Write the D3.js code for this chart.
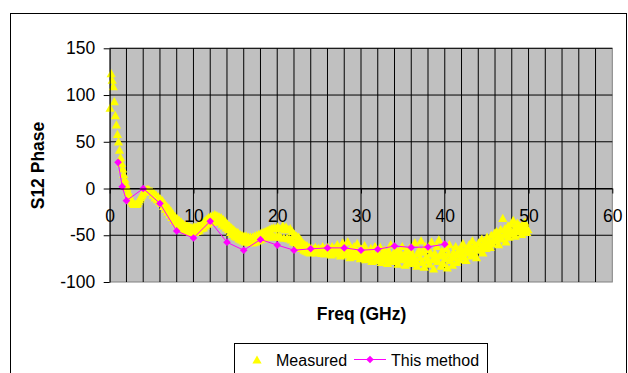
<!DOCTYPE html>
<html>
<head>
<meta charset="utf-8">
<script src="https://cdn.jsdelivr.net/npm/d3@7/dist/d3.min.js"></script>
<style>
  html, body { margin: 0; padding: 0; background: #fff; }
  svg { display: block; font-family: Arial, "Liberation Sans", sans-serif; }
</style>
</head>
<body>
<svg id="chart" width="628" height="373"></svg>
<script>
// Sweep of the measured S12 phase (GHz start / step, one value per point, degrees)
const measStartGHz = 0.05;
const measStepGHz = 0.125;
const measuredPhase = [
  86, 123, 116, 109, 93, 78, 68, 58,
  50, 41, 33, 27, 21, 15, 10, 5,
  1, -3, -6, -9, -12, -14, -16, -17,
  -17, -17, -16, -14, -12, -10, -8, -6,
  -4, -3, -2, -1.5, -1, -1.5, -2.5, -3.5,
  -3, -7, -5, -10, -7, -12, -9, -14,
  -11, -16, -13, -19, -16, -22, -19, -25,
  -21, -28, -24, -31, -27, -34, -30, -36,
  -32, -38, -34, -41, -36, -42, -38, -44,
  -39, -45, -40, -46, -41, -47, -42, -47,
  -41, -47, -41, -46, -40, -45, -38, -43,
  -37, -42, -35, -40, -33, -38, -31, -36,
  -30, -36, -29, -35, -28, -34, -29, -35,
  -30, -36, -31, -38, -33, -40, -35, -42,
  -38, -44, -40, -47, -42, -49, -44, -51,
  -46, -52, -47, -54, -49, -55, -50, -56,
  -51, -57, -51, -57, -52, -58, -52, -58,
  -52, -58, -51, -57, -50, -56, -49, -55,
  -48, -54, -47, -53, -46, -52, -45, -51,
  -44, -51, -43, -50, -42, -52, -43, -51,
  -41, -51, -43, -52, -42, -40, -53, -44,
  -41, -53, -44, -54, -43, -55, -46, -57,
  -49, -58, -51, -60, -52, -62, -55, -64,
  -58, -66, -60, -67, -61, -68, -63, -69,
  -64, -68, -65, -66.5, -63, -69, -66, -64,
  -67, -65, -69.5, -62, -66, -70, -64, -67,
  -63, -68, -65.5, -71, -62, -66, -69, -63.5,
  -67, -60, -70, -65, -72, -64, -58, -68,
  -63, -71, -66, -57, -69, -74, -64, -67,
  -70, -62, -73, -66, -59, -71, -68, -75,
  -65, -72, -69, -61, -76, -67, -73, -70,
  -74, -64, -78, -69, -72, -62, -77, -71,
  -68, -75, -63, -79, -70, -73, -66, -76,
  -71, -80, -67, -74, -60, -77, -72, -69,
  -78, -65, -73, -81, -68, -75, -70, -62,
  -76, -71, -82, -67, -74, -79, -64, -72,
  -69, -80, -75, -58, -77, -83, -70, -66,
  -74, -56, -79, -68, -84, -62, -73, -77,
  -65, -81, -70, -57, -76, -86, -69, -74,
  -62, -78, -55, -72, -83, -67, -80, -71,
  -75, -64, -85, -70, -60, -77, -73, -82,
  -68, -74, -62, -79, -71, -66, -76, -63,
  -70, -59, -73, -66, -77, -64, -69, -60,
  -67, -72, -56, -63, -70, -61, -74, -65,
  -58, -66, -62, -54, -69, -60, -56, -64,
  -52, -61, -57, -63, -50, -59, -55, -48,
  -56, -46, -53, -60, -49, -44, -54, -32,
  -50, -43, -57, -47, -40, -52, -45, -38,
  -48, -34, -44, -51, -42, -37, -46, -40,
  -43, -49, -38, -45, -36, -41, -47, -44
];

// Computed phase ("This method")
const methodFreq = [1, 1.5, 2, 4, 6, 8, 10, 12, 14, 16, 18, 20, 22, 24, 26, 28, 30, 32, 34, 36, 38, 40];
const methodPhase = [28, 2, -13, 0, -16, -45.5, -53, -35, -57.5, -66, -54.5, -60.5, -66, -64.5, -63.5, -63.5, -66, -65, -61.5, -63, -62.5, -59.5];

// Axis ticks and labels
const xTicks = [0, 10, 20, 30, 40, 50, 60];
const xGrid = [0, 2, 4, 6, 8, 10, 12, 14, 16, 18, 20, 22, 24, 26, 28, 30, 32, 34, 36, 38, 40, 42, 44, 46, 48, 50, 52, 54, 56, 58, 60];
const yTicks = [-100, -50, 0, 50, 100, 150];
const xTitle = "Freq (GHz)";
const yTitle = "S12 Phase";
const seriesNames = ["Measured", "This method"];

const measured = measuredPhase.map((v, i) => ({ f: measStartGHz + i * measStepGHz, v }));
const method = methodFreq.map((f, i) => ({ f, v: methodPhase[i] }));

const svg = d3.select("#chart");
const plot = { left: 109.7, right: 612.3, top: 48.3, bottom: 282 };

const x = d3.scaleLinear().domain([0, 60]).range([plot.left, plot.right]);
const y = d3.scaleLinear().domain([-100, 150]).range([plot.bottom, plot.top]);
const plainNum = d => String(d);

// Chart frame
svg.append("rect")
  .attr("x", 10.5).attr("y", 13.5)
  .attr("width", 616).attr("height", 380)
  .attr("fill", "#fff").attr("stroke", "#000").attr("stroke-width", 1);

// Plot area
svg.append("rect")
  .attr("x", plot.left).attr("y", plot.top)
  .attr("width", plot.right - plot.left).attr("height", plot.bottom - plot.top)
  .attr("fill", "#c0c0c0").attr("stroke", "#808080").attr("stroke-width", 1);

// Gridlines
const grid = svg.append("g").attr("stroke", "#000").attr("stroke-width", 1);
grid.selectAll("line.v").data(xGrid.filter(d => d > 0 && d < 60)).join("line")
  .attr("class", "v")
  .attr("x1", d => x(d)).attr("x2", d => x(d))
  .attr("y1", plot.top).attr("y2", plot.bottom);
grid.selectAll("line.h").data(yTicks.filter(d => d > -100)).join("line")
  .attr("class", "h")
  .attr("x1", plot.left).attr("x2", plot.right)
  .attr("y1", d => y(d)).attr("y2", d => y(d));

// Measured series: yellow triangles
const tri = "M0,-4.6L4.6,3.6L-4.6,3.6Z";
svg.append("g").selectAll("path").data(measured).join("path")
  .attr("d", tri)
  .attr("transform", d => `translate(${x(d.f)},${y(d.v)})`)
  .attr("fill", "#ffff00");

// This method: magenta line with diamonds
const line = d3.line().x(d => x(d.f)).y(d => y(d.v));
svg.append("path").datum(method)
  .attr("d", line)
  .attr("fill", "none").attr("stroke", "#ff00ff").attr("stroke-width", 1);
const diamond = "M0,-3.8L3.8,0L0,3.8L-3.8,0Z";
svg.append("g").selectAll("path").data(method).join("path")
  .attr("d", diamond)
  .attr("transform", d => `translate(${x(d.f)},${y(d.v)})`)
  .attr("fill", "#ff00ff");

// Y axis
const yAxis = svg.append("g")
  .attr("transform", `translate(${plot.left},0)`)
  .call(d3.axisLeft(y).tickValues(yTicks).tickFormat(plainNum).tickSize(6).tickSizeOuter(0).tickPadding(8.5));
yAxis.selectAll("path, line").attr("stroke", "#000");
yAxis.selectAll("text").attr("font-size", 17.5).attr("fill", "#000")
  .attr("font-family", "Arial, 'Liberation Sans', sans-serif");

// X axis crossing at 0
const xAxis = svg.append("g")
  .attr("transform", `translate(0,${y(0)})`)
  .call(d3.axisBottom(x).tickValues(xTicks).tickFormat(plainNum).tickSize(5).tickSizeOuter(0).tickPadding(16.3));
xAxis.selectAll("path, line").attr("stroke", "#000");
xAxis.selectAll("text").attr("font-size", 17.5).attr("fill", "#000")
  .attr("font-family", "Arial, 'Liberation Sans', sans-serif");

// Titles
svg.append("text")
  .attr("x", 361.5).attr("y", 319.5)
  .attr("text-anchor", "middle")
  .attr("font-size", 17.5).attr("font-weight", "bold")
  .text(xTitle);
svg.append("text")
  .attr("transform", "translate(44,165.5) rotate(-90)")
  .attr("text-anchor", "middle")
  .attr("font-size", 17.5).attr("font-weight", "bold")
  .text(yTitle);

// Legend
const lg = svg.append("g");
lg.append("rect")
  .attr("x", 234.5).attr("y", 343.5).attr("width", 253).attr("height", 40)
  .attr("fill", "#fff").attr("stroke", "#000").attr("stroke-width", 1);
lg.append("path").attr("d", tri).attr("transform", "translate(257,360)").attr("fill", "#ffff00");
lg.append("text").attr("x", 276).attr("y", 365.5).attr("font-size", 16).text(seriesNames[0]);
lg.append("line").attr("x1", 354).attr("x2", 386).attr("y1", 359.5).attr("y2", 359.5)
  .attr("stroke", "#ff00ff").attr("stroke-width", 1);
lg.append("path").attr("d", diamond).attr("transform", "translate(370,359.5)").attr("fill", "#ff00ff");
lg.append("text").attr("x", 391).attr("y", 365.5).attr("font-size", 16).text(seriesNames[1]);
</script>
</body>
</html>
